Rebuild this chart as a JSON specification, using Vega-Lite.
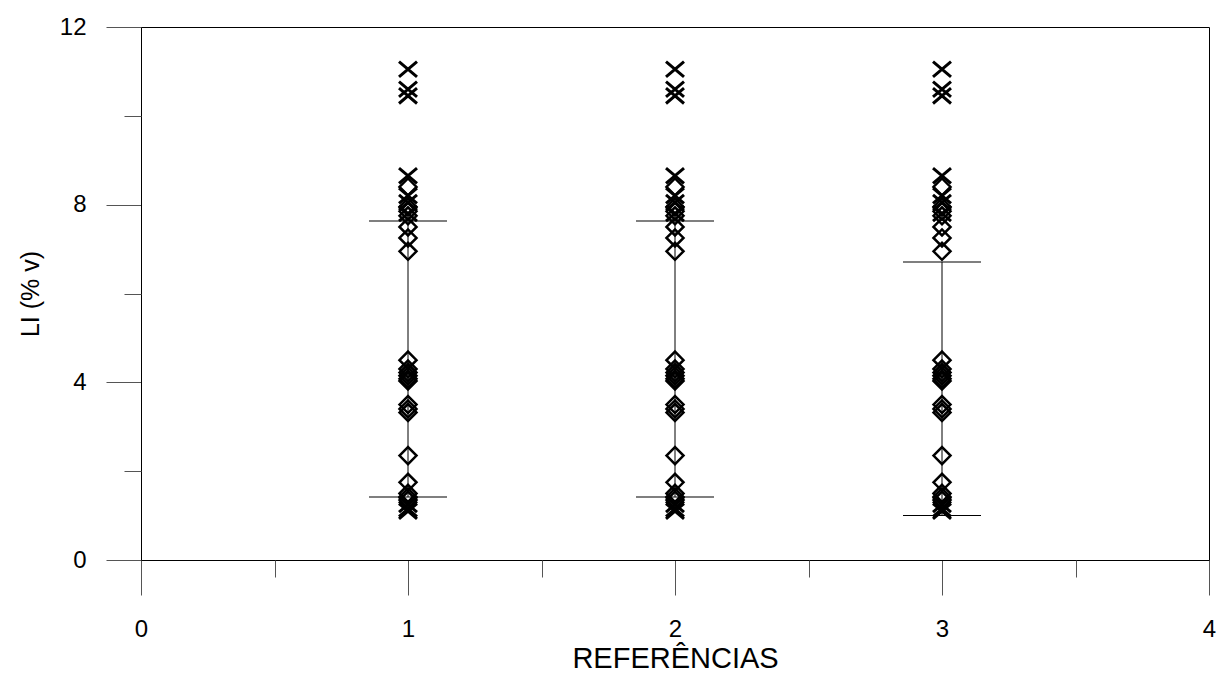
{
  "$schema": "https://vega.github.io/schema/vega-lite/v6.json",
  "autosize": {"type": "none"},
  "width": 1068,
  "height": 533,
  "padding": {"left": 141, "top": 27, "right": 10, "bottom": 113},
  "background": "white",
  "config": {
    "view": {"stroke": "#000", "strokeWidth": 1},
    "font": "Liberation Sans",
    "axis": {"grid": false, "labelFont": "Liberation Sans", "titleFont": "Liberation Sans", "labelColor": "#000", "titleColor": "#000", "titleFontWeight": "normal", "domainColor": "#000", "tickColor": "#555", "tickWidth": 1}
  },
  "datasets": {
    "pts": [
      {"ref": 1, "li": 11.05, "sym": "x"}, {"ref": 1, "li": 10.6, "sym": "x"}, {"ref": 1, "li": 10.45, "sym": "x"}, {"ref": 1, "li": 8.65, "sym": "x"}, {"ref": 1, "li": 8.2, "sym": "x"}, {"ref": 1, "li": 8.05, "sym": "x"}, {"ref": 1, "li": 7.8, "sym": "x"}, {"ref": 1, "li": 1.25, "sym": "x"}, {"ref": 1, "li": 1.15, "sym": "x"}, {"ref": 1, "li": 1.1, "sym": "x"},
      {"ref": 1, "li": 8.4, "sym": "d"}, {"ref": 1, "li": 7.95, "sym": "d"}, {"ref": 1, "li": 7.85, "sym": "d"}, {"ref": 1, "li": 7.75, "sym": "d"}, {"ref": 1, "li": 7.5, "sym": "d"}, {"ref": 1, "li": 7.25, "sym": "d"}, {"ref": 1, "li": 6.95, "sym": "d"}, {"ref": 1, "li": 4.5, "sym": "d"}, {"ref": 1, "li": 4.3, "sym": "d"}, {"ref": 1, "li": 4.22, "sym": "d"}, {"ref": 1, "li": 4.15, "sym": "d"}, {"ref": 1, "li": 4.08, "sym": "d"}, {"ref": 1, "li": 4.03, "sym": "d"}, {"ref": 1, "li": 3.5, "sym": "d"}, {"ref": 1, "li": 3.4, "sym": "d"}, {"ref": 1, "li": 3.32, "sym": "d"}, {"ref": 1, "li": 2.35, "sym": "d"}, {"ref": 1, "li": 1.75, "sym": "d"}, {"ref": 1, "li": 1.5, "sym": "d"}, {"ref": 1, "li": 1.42, "sym": "d"}, {"ref": 1, "li": 1.35, "sym": "d"},
      {"ref": 2, "li": 11.05, "sym": "x"}, {"ref": 2, "li": 10.6, "sym": "x"}, {"ref": 2, "li": 10.45, "sym": "x"}, {"ref": 2, "li": 8.65, "sym": "x"}, {"ref": 2, "li": 8.2, "sym": "x"}, {"ref": 2, "li": 8.05, "sym": "x"}, {"ref": 2, "li": 7.8, "sym": "x"}, {"ref": 2, "li": 1.25, "sym": "x"}, {"ref": 2, "li": 1.15, "sym": "x"}, {"ref": 2, "li": 1.1, "sym": "x"},
      {"ref": 2, "li": 8.4, "sym": "d"}, {"ref": 2, "li": 7.95, "sym": "d"}, {"ref": 2, "li": 7.85, "sym": "d"}, {"ref": 2, "li": 7.75, "sym": "d"}, {"ref": 2, "li": 7.5, "sym": "d"}, {"ref": 2, "li": 7.25, "sym": "d"}, {"ref": 2, "li": 6.95, "sym": "d"}, {"ref": 2, "li": 4.5, "sym": "d"}, {"ref": 2, "li": 4.3, "sym": "d"}, {"ref": 2, "li": 4.22, "sym": "d"}, {"ref": 2, "li": 4.15, "sym": "d"}, {"ref": 2, "li": 4.08, "sym": "d"}, {"ref": 2, "li": 4.03, "sym": "d"}, {"ref": 2, "li": 3.5, "sym": "d"}, {"ref": 2, "li": 3.4, "sym": "d"}, {"ref": 2, "li": 3.32, "sym": "d"}, {"ref": 2, "li": 2.35, "sym": "d"}, {"ref": 2, "li": 1.75, "sym": "d"}, {"ref": 2, "li": 1.5, "sym": "d"}, {"ref": 2, "li": 1.42, "sym": "d"}, {"ref": 2, "li": 1.35, "sym": "d"},
      {"ref": 3, "li": 11.05, "sym": "x"}, {"ref": 3, "li": 10.6, "sym": "x"}, {"ref": 3, "li": 10.45, "sym": "x"}, {"ref": 3, "li": 8.65, "sym": "x"}, {"ref": 3, "li": 8.2, "sym": "x"}, {"ref": 3, "li": 8.05, "sym": "x"}, {"ref": 3, "li": 7.8, "sym": "x"}, {"ref": 3, "li": 1.25, "sym": "x"}, {"ref": 3, "li": 1.15, "sym": "x"}, {"ref": 3, "li": 1.1, "sym": "x"},
      {"ref": 3, "li": 8.4, "sym": "d"}, {"ref": 3, "li": 7.95, "sym": "d"}, {"ref": 3, "li": 7.85, "sym": "d"}, {"ref": 3, "li": 7.75, "sym": "d"}, {"ref": 3, "li": 7.5, "sym": "d"}, {"ref": 3, "li": 7.25, "sym": "d"}, {"ref": 3, "li": 6.95, "sym": "d"}, {"ref": 3, "li": 4.5, "sym": "d"}, {"ref": 3, "li": 4.3, "sym": "d"}, {"ref": 3, "li": 4.22, "sym": "d"}, {"ref": 3, "li": 4.15, "sym": "d"}, {"ref": 3, "li": 4.08, "sym": "d"}, {"ref": 3, "li": 4.03, "sym": "d"}, {"ref": 3, "li": 3.5, "sym": "d"}, {"ref": 3, "li": 3.4, "sym": "d"}, {"ref": 3, "li": 3.32, "sym": "d"}, {"ref": 3, "li": 2.35, "sym": "d"}, {"ref": 3, "li": 1.75, "sym": "d"}, {"ref": 3, "li": 1.5, "sym": "d"}, {"ref": 3, "li": 1.42, "sym": "d"}, {"ref": 3, "li": 1.35, "sym": "d"}
    ],
    "bars": [
      {"ref": 1, "lo": 1.42, "hi": 7.63},
      {"ref": 2, "lo": 1.42, "hi": 7.63},
      {"ref": 3, "lo": 1.0, "hi": 6.71}
    ]
  },
  "resolve": {"axis": {"x": "independent", "y": "independent"}},
  "layer": [
    {
      "data": {"name": "bars"},
      "mark": {"type": "rule", "color": "#000", "strokeWidth": 1},
      "encoding": {
        "x": {"field": "ref", "type": "quantitative", "scale": {"domain": [0, 4], "nice": false, "zero": false},
              "axis": {"orient": "bottom", "values": [0, 1, 2, 3, 4], "tickSize": 35, "labelFontSize": 24, "labelPadding": 22, "title": "REFERÊNCIAS", "titleFontSize": 29, "titlePadding": 3, "labelFlush": false, "labelOverlap": false}},
        "y": {"field": "lo", "type": "quantitative", "scale": {"domain": [0, 12], "nice": false, "zero": false},
              "axis": {"orient": "left", "values": [0, 4, 8, 12], "tickSize": 35, "labelFontSize": 24, "labelPadding": 20, "title": "LI (% v)", "titleFontSize": 25, "titlePadding": 16, "labelFlush": false, "labelOverlap": false}},
        "y2": {"field": "hi"}
      }
    },
    {
      "data": {"name": "bars"},
      "mark": {"type": "tick", "orient": "horizontal", "color": "#000", "size": 78, "thickness": 1, "opacity": 1},
      "encoding": {
        "x": {"field": "ref", "type": "quantitative", "scale": {"domain": [0, 4], "nice": false, "zero": false},
              "axis": {"orient": "bottom", "values": [0.5, 1.5, 2.5, 3.5], "tickSize": 17, "labels": false, "domain": false, "title": null}},
        "y": {"field": "lo", "type": "quantitative", "scale": {"domain": [0, 12], "nice": false, "zero": false},
              "axis": {"orient": "left", "values": [2, 6, 10], "tickSize": 17, "labels": false, "domain": false, "title": null}}
      }
    },
    {
      "data": {"name": "bars"},
      "mark": {"type": "tick", "orient": "horizontal", "color": "#000", "size": 78, "thickness": 1, "opacity": 1},
      "encoding": {
        "x": {"field": "ref", "type": "quantitative", "scale": {"domain": [0, 4], "nice": false, "zero": false}, "axis": null},
        "y": {"field": "hi", "type": "quantitative", "scale": {"domain": [0, 12], "nice": false, "zero": false}, "axis": null}
      }
    },
    {
      "data": {"name": "pts"},
      "transform": [{"filter": "datum.sym === 'd'"}],
      "mark": {"type": "point", "shape": "diamond", "filled": false, "color": "#000", "strokeWidth": 2.5, "size": 289, "opacity": 1},
      "encoding": {
        "x": {"field": "ref", "type": "quantitative", "scale": {"domain": [0, 4], "nice": false, "zero": false}, "axis": null},
        "y": {"field": "li", "type": "quantitative", "scale": {"domain": [0, 12], "nice": false, "zero": false}, "axis": null}
      }
    },
    {
      "data": {"name": "pts"},
      "transform": [{"filter": "datum.sym === 'x'"}],
      "mark": {"type": "point", "shape": "M-1,-0.85L1,0.85M1,-0.85L-1,0.85", "filled": false, "color": "#000", "strokeWidth": 3, "size": 324, "opacity": 1},
      "encoding": {
        "x": {"field": "ref", "type": "quantitative", "scale": {"domain": [0, 4], "nice": false, "zero": false}, "axis": null},
        "y": {"field": "li", "type": "quantitative", "scale": {"domain": [0, 12], "nice": false, "zero": false}, "axis": null}
      }
    }
  ]
}
